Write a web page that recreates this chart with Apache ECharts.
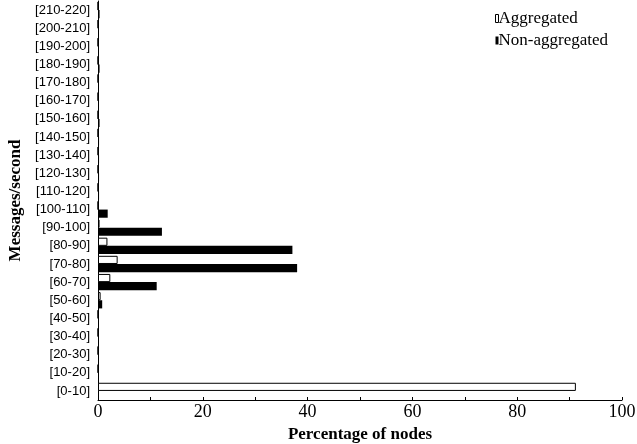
<!DOCTYPE html>
<html><head><meta charset="utf-8">
<script src="https://cdn.jsdelivr.net/npm/echarts@6/dist/echarts.min.js"></script>
<style>html,body{margin:0;padding:0;background:#fff}#c{width:637px;height:444px}</style>
</head><body><div id="c"></div>
<script>
const categories = ['[0-10]','[10-20]','[20-30]','[30-40]','[40-50]','[50-60]','[60-70]','[70-80]','[80-90]','[90-100]','[100-110]','[110-120]','[120-130]','[130-140]','[140-150]','[150-160]','[160-170]','[170-180]','[180-190]','[190-200]','[200-210]','[210-220]'];
const aggregated = [91.2,0,0,0,0,0.5,2.35,3.75,1.8,0.3,0,0,0,0,0,0,0,0,0,0,0,0];
const nonAggregated = [0,0,0,0,0.05,0.8,11.2,38.0,37.1,12.2,1.85,0.2,0.2,0.2,0.2,0.3,0.1,0.1,0.3,0.1,0.1,0.3];
const xTicks = [0,20,40,60,80,100];

const chart = echarts.init(document.getElementById('c'), null, {renderer:'canvas'});
const serif = 'Liberation Serif';
chart.setOption({
  animation:false,
  backgroundColor:'#fff',
  grid:{left:98,right:15,top:1,bottom:44,containLabel:false,outerBoundsMode:'none'},
  legend:{
    top:5,left:490,orient:'vertical',itemGap:5,itemWidth:3,itemHeight:8,
    textStyle:{fontFamily:serif,fontSize:17,color:'#000',padding:[0,0,0,-5]},
    data:[
      {name:'Aggregated',icon:'rect',itemStyle:{color:'#fff',borderColor:'#000',borderWidth:1}},
      {name:'Non-aggregated',icon:'rect',itemStyle:{color:'#000'}}
    ]
  },
  xAxis:{
    type:'value',min:0,max:100,interval:10,
    name:'Percentage of nodes',nameLocation:'middle',nameGap:23,
    nameTextStyle:{fontFamily:serif,fontSize:17,fontWeight:'bold',color:'#000'},
    axisLine:{show:true,lineStyle:{color:'#000',width:1}},
    axisTick:{show:true,inside:true,length:3,lineStyle:{color:'#000'}},
    axisLabel:{fontFamily:serif,fontSize:18,color:'#000',margin:3,
      formatter:v=>xTicks.includes(v)?String(v):''},
    splitLine:{show:false}
  },
  yAxis:{
    type:'category',data:categories,
    name:'Messages/second',nameLocation:'middle',nameGap:73,
    nameTextStyle:{fontFamily:serif,fontSize:17,fontWeight:'bold',color:'#000'},
    axisLine:{show:true,lineStyle:{color:'#000',width:1}},
    axisTick:{show:false},
    axisLabel:{fontFamily:'Liberation Sans',fontSize:13,color:'#000',margin:8,interval:0},
    splitLine:{show:false}
  },
  series:[
    {name:'Aggregated',type:'bar',data:aggregated,barGap:'0%',barCategoryGap:'10%',
     itemStyle:{color:'#fff',borderColor:'#000',borderWidth:1}},
    {name:'Non-aggregated',type:'bar',data:nonAggregated,barGap:'0%',barCategoryGap:'10%',
     itemStyle:{color:'#000'}}
  ]
});
</script></body></html>
